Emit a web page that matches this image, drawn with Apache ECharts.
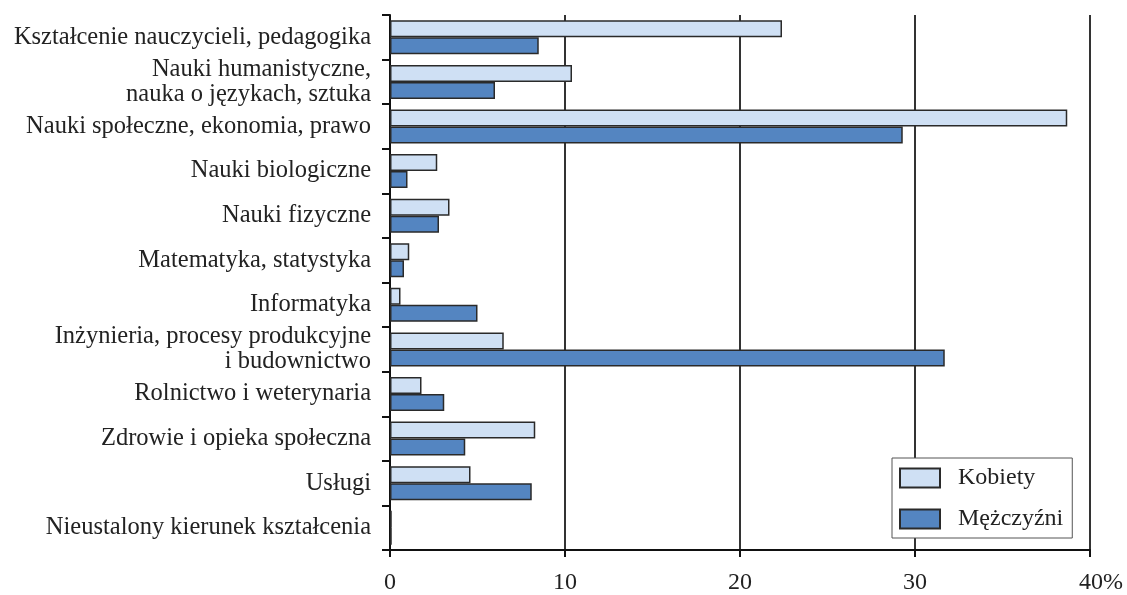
<!DOCTYPE html>
<html>
<head>
<meta charset="utf-8">
<script src="https://cdn.jsdelivr.net/npm/echarts@6/dist/echarts.min.js"></script>
<style>
html,body{margin:0;padding:0;background:#fff;}
#chart{width:1127px;height:595px;}
</style>
</head>
<body>
<div id="chart"></div>
<script>
const categories = [
  'Kształcenie nauczycieli, pedagogika',
  'Nauki humanistyczne,\nnauka o językach, sztuka',
  'Nauki społeczne, ekonomia, prawo',
  'Nauki biologiczne',
  'Nauki fizyczne',
  'Matematyka, statystyka',
  'Informatyka',
  'Inżynieria, procesy produkcyjne\ni budownictwo',
  'Rolnictwo i weterynaria',
  'Zdrowie i opieka społeczna',
  'Usługi',
  'Nieustalony kierunek kształcenia'
];
const kobiety = [22.4, 10.4, 38.7, 2.7, 3.4, 1.1, 0.6, 6.5, 1.8, 8.3, 4.6, 0.1];
const mezczyzni = [8.5, 6.0, 29.3, 1.0, 2.8, 0.8, 5.0, 31.7, 3.1, 4.3, 8.1, 0.1];
const xTicks = [0, 10, 20, 30, 40];

const FONT = "'Liberation Serif', 'DejaVu Serif', serif";
const chart = echarts.init(document.getElementById('chart'));
chart.setOption({
  backgroundColor: '#ffffff',
  animation: false,
  textStyle: { fontFamily: FONT },
  grid: { left: 390, right: 37, top: 15, bottom: 43, containLabel: false },
  legend: {
    orient: 'vertical',
    left: 892,
    top: 458,
    backgroundColor: '#ffffff',
    borderColor: '#555',
    borderWidth: 1,
    padding: [8, 9, 7, 7],
    itemWidth: 40,
    itemHeight: 19,
    itemGap: 17,
    icon: 'rect',
    textStyle: { fontFamily: FONT, fontSize: 24, color: '#222', padding: [0, 0, 0, 13] },
    data: ['Kobiety', 'Mężczyźni']
  },
  xAxis: {
    type: 'value',
    min: xTicks[0],
    max: xTicks[xTicks.length - 1],
    interval: 10,
    axisLine: { show: true, lineStyle: { color: '#111', width: 2 } },
    axisTick: { show: true, length: 7, lineStyle: { color: '#111', width: 2 } },
    splitLine: { show: true, lineStyle: { color: '#333', width: 2 } },
    axisLabel: {
      fontFamily: FONT, fontSize: 24, color: '#222', margin: 21,
      formatter: function (v) { return v === 40 ? '{s|}40%' : String(v); },
      rich: { s: { width: 22 } }
    }
  },
  yAxis: {
    type: 'category',
    inverse: true,
    data: categories,
    axisLine: { show: true, lineStyle: { color: '#111', width: 2 } },
    axisTick: { show: true, length: 8, lineStyle: { color: '#111', width: 2 } },
    axisLabel: {
      fontFamily: FONT, fontSize: 24.5, color: '#222', margin: 19,
      lineHeight: 25, interval: 0
    }
  },
  series: [
    {
      name: 'Kobiety', type: 'bar', data: kobiety,
      barWidth: 17, barGap: '0%',
      itemStyle: { color: '#cfe0f4', borderColor: '#2a2a2a', borderWidth: 1.5 }
    },
    {
      name: 'Mężczyźni', type: 'bar', data: mezczyzni,
      barWidth: 17, barGap: '0%',
      itemStyle: { color: '#5485c1', borderColor: '#2a2a2a', borderWidth: 1.5 }
    }
  ]
});
</script>
</body>
</html>
